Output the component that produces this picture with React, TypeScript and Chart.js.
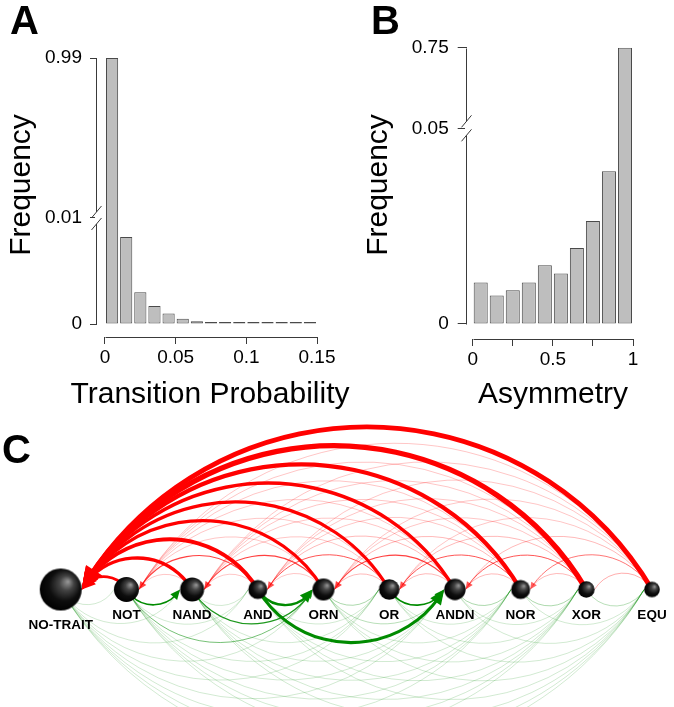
import React, { useEffect, useRef } from 'react';
import { Chart, registerables } from 'chart.js';

Chart.register(...registerables);

const FONT = "'Liberation Sans', Arial, Helvetica, sans-serif";
const AXIS_COLOR = '#3a3a3a';

// ---------------- Panel A: transition probability histogram ----------------
const transitionBinCenters = [0.005, 0.015, 0.025, 0.035, 0.045, 0.055, 0.065, 0.075, 0.085, 0.095, 0.105, 0.115, 0.125, 0.135, 0.145];
const transitionFrequency = [0.99, 0.0082, 0.003, 0.0017, 0.001, 0.0005, 0.00025, 0.00015, 0.00012, 0.00005, 0.00004, 0.00003, 0.00003, 0.00002, 0.00002];
const transitionXTicks = [0, 0.05, 0.1, 0.15];
const transitionXTickLabels = ['0', '0.05', '0.1', '0.15'];
const transitionYTicks = [0, 0.01, 0.99];
const transitionYTickLabels = ['0', '0.01', '0.99'];

// ---------------- Panel B: asymmetry histogram ----------------
const asymmetryBinCenters = [0.05, 0.15, 0.25, 0.35, 0.45, 0.55, 0.65, 0.75, 0.85, 0.95];
const asymmetryFrequency = [0.0106, 0.0073, 0.0086, 0.0106, 0.015, 0.0129, 0.0194, 0.0263, 0.039, 0.75];
const asymmetryXTicks = [0, 0.25, 0.5, 0.75, 1];
const asymmetryXTickLabels = ['0', '', '0.5', '', '1'];
const asymmetryYTicks = [0, 0.05, 0.75];
const asymmetryYTickLabels = ['0', '0.05', '0.75'];

// ---------------- Panel C: trait transition network ----------------
const traitNames = ['NO-TRAIT', 'NOT', 'NAND', 'AND', 'ORN', 'OR', 'ANDN', 'NOR', 'XOR', 'EQU'];
const traitFrequency = [1.0, 0.354, 0.327, 0.205, 0.274, 0.24, 0.26, 0.205, 0.156, 0.138];
// transition weights: row = from, column = to (NO-TRAIT, NOT, NAND, AND, ORN, OR, ANDN, NOR, XOR, EQU)
const fromNoTrait = [0, 0.03, 0.03, 0.03, 0.03, 0.03, 0.03, 0.03, 0.03, 0.03];
const fromNot = [0.25, 0, 0.15, 0.03, 0.08, 0.03, 0.03, 0.03, 0.03, 0.03];
const fromNand = [0.3, 0.04, 0, 0.03, 0.12, 0.03, 0.03, 0.03, 0.03, 0.03];
const fromAnd = [0.35, 0.1, 0.04, 0, 0.22, 0.03, 0.28, 0.03, 0.03, 0.03];
const fromOrn = [0.3, 0.04, 0.1, 0.04, 0, 0.06, 0.05, 0.03, 0.03, 0.03];
const fromOr = [0.3, 0.04, 0.04, 0.09, 0.05, 0, 0.15, 0.03, 0.03, 0.03];
const fromAndn = [0.32, 0.04, 0.04, 0.05, 0.1, 0.05, 0, 0.06, 0.03, 0.03];
const fromNor = [0.38, 0.04, 0.04, 0.04, 0.05, 0.09, 0.05, 0, 0.06, 0.03];
const fromXor = [0.48, 0.04, 0.04, 0.04, 0.04, 0.05, 0.09, 0.05, 0, 0.05];
const fromEqu = [0.45, 0.04, 0.04, 0.04, 0.04, 0.04, 0.05, 0.08, 0.06, 0];
const transitionMatrix = [fromNoTrait, fromNot, fromNand, fromAnd, fromOrn, fromOr, fromAndn, fromNor, fromXor, fromEqu];

// ---------------- helpers ----------------
type TextItem = { text: string; x: number; y: number; size: number; bold?: boolean; rotate?: boolean; align?: CanvasTextAlign };

function makeTextPlugin(items: TextItem[]) {
  return {
    id: 'staticTexts',
    afterDraw(chart: any) {
      const ctx = chart.ctx as CanvasRenderingContext2D;
      ctx.save();
      ctx.fillStyle = '#000';
      ctx.textBaseline = 'alphabetic';
      for (const it of items) {
        ctx.font = `${it.bold ? 'bold ' : ''}${it.size}px ${FONT}`;
        ctx.textAlign = it.align || 'left';
        ctx.save();
        ctx.translate(it.x, it.y);
        if (it.rotate) ctx.rotate(-Math.PI / 2);
        ctx.fillText(it.text, 0, 0);
        ctx.restore();
      }
      ctx.restore();
    },
  };
}

function brokenAxis(lower: number, upper: number, upperSpan: number) {
  return (v: number) => (v <= lower ? v / lower : 1 + ((v - lower) / (upper - lower)) * upperSpan);
}

type HistSpec = {
  centers: number[];
  values: number[];
  tf: (v: number) => number;
  xTicks: number[];
  xLabels: string[];
  yTicks: number[];
  yLabels: string[];
  xMin: number;
  xMax: number;
  yMin: number;
  padTop: number;
  padRight: number;
  yAxisWidth: number;
  xAxisHeight: number;
  barPct: number;
  yTickLen: number;
  yTickPad: number;
  breakGap: number;
  texts: TextItem[];
};

function histConfig(s: HistSpec): any {
  const rAxes = {
    id: 'rAxes',
    afterDraw(chart: any) {
      const { ctx, chartArea } = chart;
      const x = chart.scales.x;
      const y = chart.scales.y;
      ctx.save();
      ctx.strokeStyle = AXIS_COLOR;
      ctx.lineWidth = 1;
      // x axis line (only across the tick range, R style)
      const xa = Math.round(x.getPixelForValue(s.xTicks[0])) + 0.5;
      const xb = Math.round(x.getPixelForValue(s.xTicks[s.xTicks.length - 1])) + 0.5;
      const yx = Math.round(chartArea.bottom) + 0.5;
      ctx.beginPath();
      ctx.moveTo(xa, yx);
      ctx.lineTo(xb, yx);
      ctx.stroke();
      // y axis line with break marks
      const ax = Math.round(chartArea.left) - 0.5;
      const yTop = Math.round(y.getPixelForValue(s.tf(s.yTicks[2]))) + 0.5;
      const yBrk = y.getPixelForValue(s.tf(s.yTicks[1]));
      const yZero = Math.round(y.getPixelForValue(0)) + 0.5;
      const g = s.breakGap / 2;
      ctx.beginPath();
      ctx.moveTo(ax, yTop);
      ctx.lineTo(ax, yBrk - g);
      ctx.moveTo(ax, yBrk + g);
      ctx.lineTo(ax, yZero);
      ctx.stroke();
      ctx.fillStyle = '#fff';
      ctx.fillRect(ax - 1.5, yBrk - g + 1, 3, s.breakGap - 2);
      ctx.beginPath();
      for (const c of [yBrk - g, yBrk + g]) {
        ctx.moveTo(ax - 5, c + 6);
        ctx.lineTo(ax + 5, c - 6);
      }
      ctx.stroke();
      ctx.restore();
    },
  };
  return {
    type: 'bar',
    data: {
      datasets: [
        {
          data: s.centers.map((c, i) => ({ x: c, y: s.tf(s.values[i]) })),
          backgroundColor: '#bebebe',
          borderColor: '#4a4a4a',
          borderWidth: 1,
          borderSkipped: false,
          barPercentage: s.barPct,
          categoryPercentage: 1,
          minBarLength: 2,
        },
      ],
    },
    options: {
      animation: false,
      responsive: false,
      maintainAspectRatio: false,
      events: [],
      layout: { padding: { left: 0, top: s.padTop, right: s.padRight, bottom: 0 } },
      plugins: { legend: { display: false }, tooltip: { enabled: false }, title: { display: false } },
      scales: {
        x: {
          type: 'linear',
          min: s.xMin,
          max: s.xMax,
          offset: false,
          afterBuildTicks: (sc: any) => {
            sc.ticks = s.xTicks.map((v) => ({ value: v }));
          },
          afterFit: (sc: any) => {
            sc.height = s.xAxisHeight;
          },
          ticks: {
            autoSkip: false,
            maxRotation: 0,
            minRotation: 0,
            padding: 2,
            color: '#000',
            font: { family: FONT, size: 19 },
            callback: (_v: any, i: number) => s.xLabels[i],
          },
          grid: { offset: false, drawOnChartArea: false, drawTicks: true, tickLength: 7, color: AXIS_COLOR, lineWidth: 1 },
          border: { display: false },
        },
        y: {
          type: 'linear',
          min: s.yMin,
          max: s.tf(s.yTicks[2]),
          afterBuildTicks: (sc: any) => {
            sc.ticks = s.yTicks.map((v) => ({ value: s.tf(v) }));
          },
          afterFit: (sc: any) => {
            sc.width = s.yAxisWidth;
          },
          ticks: {
            autoSkip: false,
            padding: s.yTickPad,
            color: '#000',
            font: { family: FONT, size: 19 },
            callback: (_v: any, i: number) => s.yLabels[i],
          },
          grid: { drawOnChartArea: false, drawTicks: true, tickLength: s.yTickLen, color: AXIS_COLOR, lineWidth: 1 },
          border: { display: false },
        },
      },
    },
    plugins: [rAxes, makeTextPlugin(s.texts)],
  };
}

function panelAConfig() {
  return histConfig({
    centers: transitionBinCenters,
    values: transitionFrequency,
    tf: brokenAxis(0.01, 0.99, 1.509),
    xTicks: transitionXTicks,
    xLabels: transitionXTickLabels,
    yTicks: transitionYTicks,
    yLabels: transitionYTickLabels,
    xMin: -0.00566,
    xMax: 0.15,
    yMin: -0.1226,
    padTop: 58,
    padRight: 380 - 317,
    yAxisWidth: 97,
    xAxisHeight: 415 - 337,
    barPct: 0.86,
    yTickLen: 7,
    yTickPad: 8,
    breakGap: 12,
    texts: [
      { text: 'A', x: 10, y: 34, size: 40, bold: true },
      { text: 'Frequency', x: 30, y: 185, size: 30, rotate: true, align: 'center' },
      { text: 'Transition Probability', x: 210, y: 403, size: 30, align: 'center' },
    ],
  });
}

function panelBConfig() {
  return histConfig({
    centers: asymmetryBinCenters,
    values: asymmetryFrequency,
    tf: brokenAxis(0.05, 0.75, 0.412),
    xTicks: asymmetryXTicks,
    xLabels: asymmetryXTickLabels,
    yTicks: asymmetryYTicks,
    yLabels: asymmetryYTickLabels,
    xMin: -0.0374,
    xMax: 1,
    yMin: -0.0767,
    padTop: 47.7,
    padRight: 41,
    yAxisWidth: 129.7,
    xAxisHeight: 415 - 339,
    barPct: 0.875,
    yTickLen: 9,
    yTickPad: 9,
    breakGap: 14,
    texts: [
      { text: 'B', x: 34, y: 34, size: 40, bold: true },
      { text: 'Frequency', x: 49.5, y: 185, size: 30, rotate: true, align: 'center' },
      { text: 'Asymmetry', x: 216, y: 403, size: 30, align: 'center' },
    ],
  });
}

function nodeRadius(i: number) {
  const maxF = Math.max(...traitFrequency);
  return 21 * Math.sqrt(traitFrequency[i] / maxF);
}

function makeSphere(r: number) {
  const size = Math.ceil(2 * r) + 2;
  const c = document.createElement('canvas');
  c.width = size;
  c.height = size;
  const ctx = c.getContext('2d')!;
  const cx = size / 2;
  const cy = size / 2;
  const g = ctx.createRadialGradient(cx + 0.35 * r, cy - 0.38 * r, 0, cx + 0.1 * r, cy - 0.1 * r, 1.15 * r);
  g.addColorStop(0, '#9a9a9a');
  g.addColorStop(0.3, '#434343');
  g.addColorStop(0.65, '#0e0e0e');
  g.addColorStop(1, '#000');
  ctx.fillStyle = g;
  ctx.beginPath();
  ctx.arc(cx, cy, r, 0, Math.PI * 2);
  ctx.fill();
  return c;
}

const HALF_ANGLE = 2 * Math.atan(0.57);

function edgeStyle(w: number, up: boolean) {
  const alpha = Math.min(1, 0.05 + w * 7);
  const width = Math.max(0.7, w * 11);
  const color = up ? `rgba(255,0,0,${alpha})` : `rgba(0,139,0,${alpha})`;
  return { alpha, width, color };
}

const arcPlugin = {
  id: 'transitionArcs',
  beforeDatasetsDraw(chart: any) {
    const ctx = chart.ctx as CanvasRenderingContext2D;
    const xs = chart.scales.x;
    const ys = chart.scales.y;
    const y0 = ys.getPixelForValue(0);
    const edges: { i: number; j: number; w: number }[] = [];
    transitionMatrix.forEach((row, i) =>
      row.forEach((w, j) => {
        if (i !== j && w > 0) edges.push({ i, j, w });
      })
    );
    edges.sort((a, b) => a.w - b.w);
    ctx.save();
    for (const e of edges) {
      const up = e.j < e.i;
      const rt = nodeRadius(e.j);
      const xs0 = xs.getPixelForValue(e.i);
      // arcs end at the facing edge of the target node
      const xt0 = xs.getPixelForValue(e.j) + (up ? rt : -rt);
      const half = Math.abs(xt0 - xs0) / 2;
      const R = half / Math.sin(HALF_ANGLE);
      const cx = (xs0 + xt0) / 2;
      const cy = up ? y0 + R * Math.cos(HALF_ANGLE) : y0 - R * Math.cos(HALF_ANGLE);
      const aSrc = up ? -Math.PI / 2 + HALF_ANGLE : Math.PI / 2 + HALF_ANGLE;
      const aTip = up ? -Math.PI / 2 - HALF_ANGLE : Math.PI / 2 - HALF_ANGLE;
      const st = edgeStyle(e.w, up);
      const hasArrow = e.w >= 0.08;
      const L = hasArrow ? 4 + st.width * 3.6 : 0;
      const hw = 2 + st.width * 1.45;
      ctx.strokeStyle = st.color;
      ctx.lineWidth = st.width;
      ctx.lineCap = 'butt';
      ctx.beginPath();
      ctx.arc(cx, cy, R, aTip + (hasArrow ? (L * 0.7) / R : 0), aSrc, false);
      ctx.stroke();
      if (hasArrow) {
        const tx = cx + R * Math.cos(aTip);
        const ty = cy + R * Math.sin(aTip);
        const aB = aTip + L / R;
        const bx = cx + R * Math.cos(aB);
        const by = cy + R * Math.sin(aB);
        let dx = tx - bx;
        let dy = ty - by;
        const n = Math.hypot(dx, dy) || 1;
        dx /= n;
        dy /= n;
        const px = -dy;
        const py = dx;
        const baseX = tx - dx * L;
        const baseY = ty - dy * L;
        ctx.fillStyle = st.color;
        ctx.beginPath();
        ctx.moveTo(tx, ty);
        ctx.lineTo(baseX + px * hw, baseY + py * hw);
        ctx.lineTo(baseX - px * hw, baseY - py * hw);
        ctx.closePath();
        ctx.fill();
      }
    }
    ctx.restore();
  },
  afterDatasetsDraw(chart: any) {
    const ctx = chart.ctx as CanvasRenderingContext2D;
    const xs = chart.scales.x;
    const y0 = chart.scales.y.getPixelForValue(0);
    ctx.save();
    ctx.fillStyle = '#000';
    ctx.font = `bold 13.5px ${FONT}`;
    ctx.textAlign = 'center';
    ctx.textBaseline = 'alphabetic';
    traitNames.forEach((name, i) => {
      const off = nodeRadius(i) > 16 ? 39 : 29;
      ctx.fillText(name, xs.getPixelForValue(i), y0 + off);
    });
    ctx.restore();
  },
};

function panelCConfig(): any {
  const radii = traitNames.map((_, i) => nodeRadius(i));
  const spheres = radii.map((r) => makeSphere(r));
  return {
    type: 'scatter',
    data: {
      datasets: [
        {
          data: traitNames.map((_, i) => ({ x: i, y: 0 })),
          pointStyle: spheres,
          pointRadius: radii,
          pointHoverRadius: radii,
          clip: false,
        },
      ],
    },
    options: {
      animation: false,
      responsive: false,
      maintainAspectRatio: false,
      events: [],
      layout: { padding: { left: 60.7, right: 17.3, top: 79, bottom: 13 } },
      plugins: { legend: { display: false }, tooltip: { enabled: false } },
      scales: {
        x: { type: 'linear', min: 0, max: 9, display: false },
        y: { type: 'linear', min: -1, max: 1, display: false },
      },
    },
    plugins: [arcPlugin, makeTextPlugin([{ text: 'C', x: 2, y: 48, size: 40, bold: true }])],
  };
}

function ChartCanvas(props: { make: () => any; left: number; top: number; width: number; height: number }) {
  const ref = useRef<HTMLCanvasElement>(null);
  useEffect(() => {
    const chart = new Chart(ref.current!, props.make());
    return () => chart.destroy();
  }, []);
  return (
    <canvas
      ref={ref}
      width={props.width}
      height={props.height}
      style={{ position: 'absolute', left: props.left, top: props.top, width: props.width, height: props.height }}
    />
  );
}

export default function App() {
  return (
    <div style={{ position: 'absolute', left: 0, top: 0, width: 674, height: 707, background: '#fff', overflow: 'hidden' }}>
      <ChartCanvas make={panelAConfig} left={0} top={0} width={380} height={415} />
      <ChartCanvas make={panelBConfig} left={337} top={0} width={337} height={415} />
      <ChartCanvas make={panelCConfig} left={0} top={415} width={674} height={292} />
    </div>
  );
}
